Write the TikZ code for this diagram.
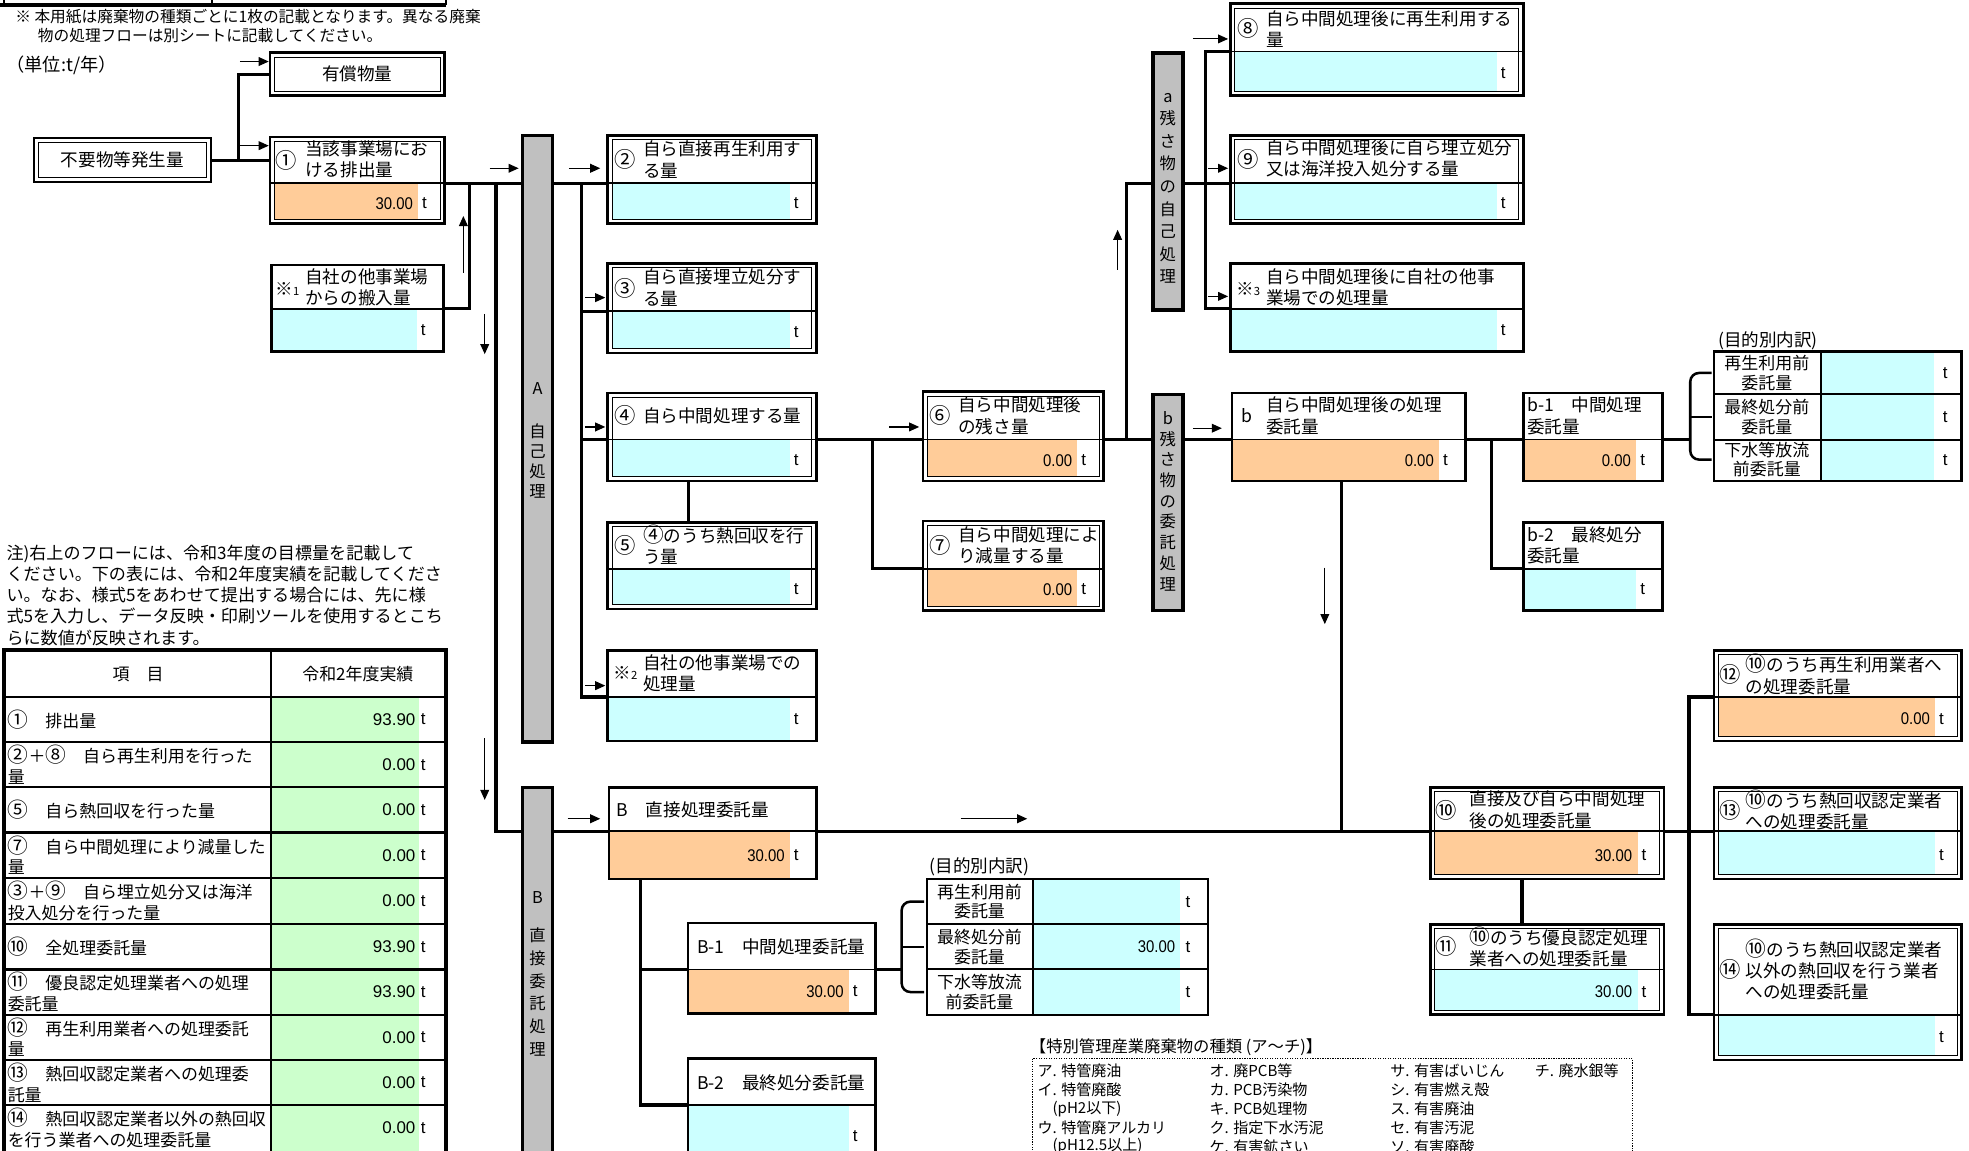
\documentclass[tikz,border=0pt]{standalone}
\usepackage{fontspec}
\setmainfont{Noto Sans CJK JP}
\newfontfamily\numf{Liberation Sans}
\usetikzlibrary{arrows.meta,calc}
\definecolor{orfill}{HTML}{FFCC99}
\definecolor{cyfill}{HTML}{CCFFFF}
\definecolor{grfill}{HTML}{CCFFCC}
\definecolor{barfill}{HTML}{C0C0C0}
\newcommand{\cir}[1]{{\fontsize{16.5}{16}\selectfont #1}}
\tikzset{
 bframe/.style={draw, line width=2.1, inner sep=0, outer sep=0, rectangle},
 barst/.style={draw, fill=barfill, line width=2.8, inner sep=0, outer sep=0, rectangle},
 splitl/.style={line width=1.5},
 conn/.style={line width=2.5},
 brk/.style={line width=2},
 ind/.style={line width=0.9, -{Triangle[length=8,width=7]}},
 hd/.style={font=\fontsize{14}{17}\selectfont, inner sep=0, align=left, anchor=west},
 mk/.style={font=\fontsize{17}{17}\selectfont, inner sep=0},
 val/.style={font=\numf\fontsize{13.5}{15}\selectfont, inner sep=0},
 tt/.style={font=\fontsize{13.5}{16.5}\selectfont, inner sep=0, align=left},
 bt/.style={font=\fontsize{13}{15}\selectfont, inner sep=0, align=center},
 lg/.style={font=\fontsize{12}{14}\selectfont, inner sep=0, anchor=west},
 nt/.style={font=\fontsize{13.6}{16.8}\selectfont, inner sep=0, align=left, anchor=north west},
}
\newcommand{\corebox}[9]{%
  \fill[#7] (#2+#8,#6) rectangle (#4-21,#5-#8);
  \node[bframe, minimum width={#4-#2}, minimum height={#5-#3}, anchor=north west] (#1) at (#2,#3) {};
  \draw[splitl] (#2,#6) -- (#4,#6);
  \node[val, anchor=east] at (#4-25,{(#6+#5)/2}) {\scalebox{0.88}[1]{#9}};
  \node[val, anchor=west] at (#4-18,{(#6+#5)/2}) {t};
  \coordinate (#1-l) at (#2,#6);
  \coordinate (#1-r) at (#4,#6);
}
\newcommand{\boxS}[8]{\corebox{#1}{#2}{#3}{#4}{#5}{#6}{#7}{0}{#8}}
\newcommand{\boxD}[8]{\corebox{#1}{#2}{#3}{#4}{#5}{#6}{#7}{3.4}{#8}%
  \draw[line width=0.8] (#2+3.4,#3+3.4) rectangle (#4-3.4,#5-3.4);}
\newcommand{\trow}[3]{\node[tt,anchor=west] at (6,#1) {#2};
  \node[val,anchor=east] at (331,#1) {#3};
  \node[val,anchor=west] at (335,#1) {t};}
\begin{document}
\begin{tikzpicture}[x=1pt,y=-1pt]
\path[use as bounding box] (0,0) rectangle (1568,916);
\clip (0,0) rectangle (1568,916);
\fill[white] (0,0) rectangle (1568,916);

% top cut-off table
\draw[line width=2.5] (0,4) -- (355,4);
\draw[line width=2] (3,0) -- (3,4) (169,0) -- (169,4) (355,0) -- (355,4);
\node[font=\fontsize{12.5}{14}\selectfont, inner sep=0, anchor=west] (note1) at (12,13) {※ 本用紙は廃棄物の種類ごとに1枚の記載となります。異なる廃棄};
\node[font=\fontsize{12.5}{14}\selectfont, inner sep=0, anchor=west] (note2) at (30,28) {物の処理フローは別シートに記載してください。};
\node[font=\fontsize{14.5}{17}\selectfont, inner sep=0, anchor=west] (unit) at (5,52) {（単位:t/年）};

% start boxes
\node[bframe, minimum width=141, minimum height=35, anchor=north west, font=\fontsize{14}{17}\selectfont] (fuyo) at (27,110) {不要物等発生量};
\draw[line width=0.8] (30.4,113.4) rectangle (164.6,141.6);
\node[bframe, minimum width=139, minimum height=34, anchor=north west, font=\fontsize{14}{17}\selectfont] (yusho) at (215,42) {有償物量};
\draw[line width=0.8] (218.4,45.4) rectangle (350.6,72.6);

% bars
\node[barst, minimum width=24, minimum height=483, anchor=north west] (barA) at (416,108) {};
\node[barst, minimum width=24, minimum height=320, anchor=north west] (barB) at (416,627) {};
\node[barst, minimum width=24, minimum height=205, anchor=north west] (bara) at (918,42) {};
\node[barst, minimum width=24, minimum height=172, anchor=north west] (barb) at (918,314) {};
\node[bt] (barAt1) at (428,309) {A};
\node[bt, font=\fontsize{13}{16}\selectfont] (barAt2) at (428,367) {自\\己\\処\\理};
\node[bt] (barBt1) at (428,715) {B};
\node[bt, font=\fontsize{13}{18.2}\selectfont] (barBt2) at (428,790) {直\\接\\委\\託\\処\\理};
\node[bt, font=\fontsize{13}{18}\selectfont] (barat) at (930,150) {a\\残\\さ\\物\\の\\自\\己\\処\\理};
\node[bt, font=\fontsize{13}{16.5}\selectfont] (barbt) at (930,399) {b\\残\\さ\\物\\の\\委\\託\\処\\理};

% flow boxes
\boxD{b1}{215}{109}{354}{178}{146}{orfill}{30.00}
\node[mk] at (228,128) {①};
\node[hd] at (243,127) {当該事業場にお\\ける排出量};
\boxS{k1}{216}{211}{353}{280}{246}{cyfill}{}
\node[mk, font=\fontsize{14}{14}\selectfont] at (229,230) {※{\fontsize{9}{9}\selectfont 1}};
\node[hd] at (243,229) {自社の他事業場\\からの搬入量};
\boxD{b2}{484}{108}{650}{178}{146}{cyfill}{}
\node[mk] at (498,127) {②};
\node[hd] at (512,127) {自ら直接再生利用す\\る量};
\boxD{b3}{484}{210}{650}{281}{248}{cyfill}{}
\node[mk] at (498,230) {③};
\node[hd] at (512,229) {自ら直接埋立処分す\\る量};
\boxD{b4}{484}{313}{650}{383}{350}{cyfill}{}
\node[mk] at (498,331) {④};
\node[hd] at (512,331) {自ら中間処理する量};
\boxD{b5}{484}{416}{650}{485}{453}{cyfill}{}
\node[mk] at (498,434) {⑤};
\node[hd] at (512,434) {\cir{④}のうち熱回収を行\\う量};
\boxS{k2}{484}{518}{650}{590}{555}{cyfill}{}
\node[mk, font=\fontsize{14}{14}\selectfont] at (498,536) {※{\fontsize{9}{9}\selectfont 2}};
\node[hd] at (512,536) {自社の他事業場での\\処理量};
\boxD{b6}{735}{312}{879}{383}{350}{orfill}{0.00}
\node[mk] at (749,331) {⑥};
\node[hd] at (763,331) {自ら中間処理後\\の残さ量};
\boxD{b7}{735}{415}{879}{486}{453}{orfill}{0.00}
\node[mk] at (749,434) {⑦};
\node[hd] at (763,434) {自ら中間処理によ\\り減量する量};
\boxD{b8}{980}{3}{1213}{76}{41}{cyfill}{}
\node[mk] at (994,23) {⑧};
\node[hd] at (1008,23) {自ら中間処理後に再生利用する\\量};
\boxD{b9}{980}{108}{1213}{178}{146}{cyfill}{}
\node[mk] at (994,127) {⑨};
\node[hd] at (1008,126) {自ら中間処理後に自ら埋立処分\\又は海洋投入処分する量};
\boxS{k3}{980}{210}{1213}{280}{246}{cyfill}{}
\node[mk, font=\fontsize{14}{14}\selectfont] at (994,230) {※{\fontsize{9}{9}\selectfont 3}};
\node[hd] at (1008,229) {自ら中間処理後に自社の他事\\業場での処理量};
\boxS{bb}{981}{313}{1167}{383}{350}{orfill}{0.00}
\node[mk, font=\fontsize{14}{14}\selectfont] at (993,331) {b};
\node[hd] at (1008,331) {自ら中間処理後の処理\\委託量};
\boxS{bb1}{1213}{313}{1324}{383}{350}{orfill}{0.00}
\node[hd] at (1216,331) {b-1　中間処理\\委託量};
\boxS{bb2}{1213}{416}{1324}{486}{453}{cyfill}{}
\node[hd] at (1216,434) {b-2　最終処分\\委託量};
\boxS{bB}{485}{627}{650}{700}{662}{orfill}{30.00}
\node[hd] at (491,645) {B　直接処理委託量};
\boxS{bB1}{548}{735}{697}{807}{772}{orfill}{30.00}
\node[hd] at (555,754) {B-1　中間処理委託量};
\boxS{bB2}{548}{843}{697}{930}{880}{cyfill}{}
\node[hd] at (555,862) {B-2　最終処分委託量};
\boxD{b10}{1139}{627}{1325}{700}{662}{orfill}{30.00}
\node[mk] at (1152,645) {⑩};
\node[hd] at (1170,645) {直接及び自ら中間処理\\後の処理委託量};
\boxD{b11}{1139}{736}{1325}{808}{772}{cyfill}{30.00}
\node[mk] at (1152,754) {⑪};
\node[hd] at (1170,754) {\cir{⑩}のうち優良認定処理\\業者への処理委託量};
\boxD{b12}{1365}{518}{1562}{590}{555}{orfill}{0.00}
\node[mk] at (1378,537) {⑫};
\node[hd] at (1390,537) {\cir{⑩}のうち再生利用業者へ\\の処理委託量};
\boxD{b13}{1365}{627}{1562}{700}{662}{cyfill}{}
\node[mk] at (1378,645) {⑬};
\node[hd] at (1390,645) {\cir{⑩}のうち熱回収認定業者\\への処理委託量};
\boxD{b14}{1365}{736}{1562}{844}{808}{cyfill}{}
\node[mk] at (1378,772) {⑭};
\node[hd] at (1390,772) {\cir{⑩}のうち熱回収認定業者\\以外の熱回収を行う業者\\への処理委託量};

% breakdown table (b-1)
\node[hd] (pur1) at (1368,271) {(目的別内訳)};
\fill[cyfill] (1450,280) rectangle (1540,383);
\draw[line width=1.8] (1365,280) rectangle (1562,383);
\draw[line width=1.6] (1365,314) -- (1562,314) (1365,350) -- (1562,350) (1450,280) -- (1450,383);
\node[bt, font=\fontsize{13.5}{15.5}\selectfont] at (1407,297) {再生利用前\\委託量};
\node[bt, font=\fontsize{13.5}{15.5}\selectfont] at (1407,332) {最終処分前\\委託量};
\node[bt, font=\fontsize{13.5}{15.5}\selectfont] at (1407,366) {下水等放流\\前委託量};
\node[val, anchor=west] at (1547,297) {t};
\node[val, anchor=west] at (1547,332) {t};
\node[val, anchor=west] at (1547,366) {t};

% breakdown table (B-1)
\node[hd] (pur2) at (740,690) {(目的別内訳)};
\fill[cyfill] (823,700) rectangle (940,808);
\draw[line width=1.8] (738,700) rectangle (962,808);
\draw[line width=1.6] (738,736) -- (962,736) (738,772) -- (962,772) (823,700) -- (823,808);
\node[bt, font=\fontsize{13.5}{15.5}\selectfont] at (780,718) {再生利用前\\委託量};
\node[bt, font=\fontsize{13.5}{15.5}\selectfont] at (780,754) {最終処分前\\委託量};
\node[bt, font=\fontsize{13.5}{15.5}\selectfont] at (780,790) {下水等放流\\前委託量};
\node[val, anchor=east] at (936,754) {\scalebox{0.88}[1]{30.00}};
\node[val, anchor=west] at (944,718) {t};
\node[val, anchor=west] at (944,754) {t};
\node[val, anchor=west] at (944,790) {t};

% connectors
\coordinate (ja) at (190,0);
\draw[conn] (fuyo.east) -- (fuyo.east -| b1.west);
\draw[conn] (ja |- fuyo.east) |- (yusho.west);
\draw[conn] (b1-r) -- (b1-r -| barA.west);
\coordinate (xa) at (374,0);
\coordinate (xb) at (395,0);
\draw[conn] (k1-r) -| (xa |- b1-r);
\draw[conn] (xb |- b1-r) |- (barB.west |- bB-l);
\draw[conn] (barA.east |- b2-l) -- (b2-l);
\coordinate (xc) at (463,0);
\draw[conn] (xc |- b2-l) |- (k2-l);
\draw[conn] (xc |- b3-l) -- (b3-l);
\draw[conn] (xc |- b4-l) -- (b4-l);
\coordinate (x45) at (548,0);
\draw[conn] (b4.south -| x45) -- (b5.north -| x45);
\draw[conn] (b4-r) -- (b6-l);
\coordinate (xd) at (695,0);
\draw[conn] (xd |- b4-r) |- (b7-l);
\coordinate (xe) at (897,0);
\draw[conn] (b6-r) -- (b6-r -| barb.west);
\draw[conn] (xe |- b6-r) |- (bara.west |- b9-l);
\coordinate (xf) at (960,0);
\draw[conn] (bara.east |- b9-l) -- (b9-l);
\draw[conn] (b8-l) -| (xf |- k3-l) -- (k3-l);
\draw[conn] (barb.east |- bb-l) -- (bb-l);
\draw[conn] (bb-r) -- (bb1-l);
\coordinate (xg) at (1188,0);
\draw[conn] (xg |- bb-r) |- (bb2-l);
\coordinate (xbr) at (1346,0);
\draw[conn] (bb1-r) -- (xbr |- bb1-r);
\draw[brk, rounded corners=7] (1363,297) -- (xbr |- 0,297) -- (xbr |- 0,366) -- (1363,366);
\draw[brk] (xbr |- 0,332) -- (1363,332);
\coordinate (xh) at (1068,0);
\draw[conn] (bb.south -| xh) -- (xh |- bB-r);
\draw[conn] (barB.east |- bB-l) -- (bB-l);
\draw[conn] (bB-r) -- (b10-l);
\coordinate (xk) at (510,0);
\draw[conn] (bB.south -| xk) |- (bB2-l);
\draw[conn] (xk |- bB1-l) -- (bB1-l);
\coordinate (xbr2) at (718,0);
\draw[conn] (bB1-r) -- (xbr2 |- bB1-r);
\draw[brk, rounded corners=7] (736,718) -- (xbr2 |- 0,718) -- (xbr2 |- 0,790) -- (736,790);
\draw[brk] (xbr2 |- 0,754) -- (736,754);
\coordinate (x1011) at (1212,0);
\draw[conn] (b10.south -| x1011) -- (b11.north -| x1011);
\coordinate (xi) at (1345,0);
\draw[conn] (b10-r) -- (b13-l);
\draw[conn] (b12-l) -| (xi |- b14-l) -- (b14-l);

% indicator arrows
\draw[ind] (191,49) -- (214,49);
\draw[ind] (191,116) -- (214,116);
\draw[ind] (369,217) -- (369,172);
\draw[ind] (386,250) -- (386,282);
\draw[ind] (386,588) -- (386,637);
\draw[ind] (390,134) -- (413,134);
\draw[ind] (453,134) -- (478,134);
\draw[ind] (466,237) -- (482,237);
\draw[ind] (466,340) -- (482,340);
\draw[ind] (466,546) -- (482,546);
\draw[ind] (708,340) -- (732,340);
\draw[ind] (890,215) -- (890,183);
\draw[ind] (950,31) -- (978,31);
\draw[ind] (962,134) -- (978,134);
\draw[ind] (962,236) -- (978,236);
\draw[ind] (950,341) -- (973,341);
\draw[ind] (1055,452) -- (1055,497);
\draw[ind] (452,652) -- (478,652);
\draw[ind] (765,652) -- (818,652);

% left note
\node[nt] (chu) at (5,434) {注)右上のフローには、令和3年度の目標量を記載して\\ください。下の表には、令和2年度実績を記載してくださ\\い。なお、様式5をあわせて提出する場合には、先に様\\式5を入力し、データ反映・印刷ツールを使用するとこち\\らに数値が反映されます。};

% left table
\fill[grfill] (216,555) rectangle (334,920);
\foreach \yy in {555,591,627,663,699,736,772,808,844,880}
  \draw[line width=1.8] (3,\yy) -- (355,\yy);
\draw[line width=1.8] (216,518) -- (216,920);
\draw[line width=3.2] (3,518) rectangle (355,920);
\node[tt] (th1) at (110,537) {項　目};
\node[tt] (th2) at (285,537) {令和2年度実績};
\trow{573}{\cir{①}　排出量}{93.90}
\trow{609}{\cir{②}＋\cir{⑧}　自ら再生利用を行った\\量}{0.00}
\trow{645}{\cir{⑤}　自ら熱回収を行った量}{0.00}
\trow{681}{\cir{⑦}　自ら中間処理により減量した\\量}{0.00}
\trow{717.5}{\cir{③}＋\cir{⑨}　自ら埋立処分又は海洋\\投入処分を行った量}{0.00}
\trow{754}{\cir{⑩}　全処理委託量}{93.90}
\trow{790}{\cir{⑪}　優良認定処理業者への処理\\委託量}{93.90}
\trow{826}{\cir{⑫}　再生利用業者への処理委託\\量}{0.00}
\trow{862}{\cir{⑬}　熱回収認定業者への処理委\\託量}{0.00}
\trow{898}{\cir{⑭}　熱回収認定業者以外の熱回収\\を行う業者への処理委託量}{0.00}

% legend
\node[font=\fontsize{13}{15}\selectfont, inner sep=0, anchor=west] (legt) at (820,834) {【特別管理産業廃棄物の種類 (ア～チ)】};
\draw[densely dotted, line width=1] (822,843) rectangle (1300,940);
\node[lg] at (826,853) {ア. 特管廃油};
\node[lg] at (826,868) {イ. 特管廃酸};
\node[lg] at (826,883) {　(pH2以下)};
\node[lg] at (826,898) {ウ. 特管廃アルカリ};
\node[lg] at (826,913) {　(pH12.5以上)};
\node[lg] at (963,853) {オ. 廃PCB等};
\node[lg] at (963,868) {カ. PCB汚染物};
\node[lg] at (963,883) {キ. PCB処理物};
\node[lg] at (963,898) {ク. 指定下水汚泥};
\node[lg] at (963,913) {ケ. 有害鉱さい};
\node[lg] at (1107,853) {サ. 有害ばいじん};
\node[lg] at (1107,868) {シ. 有害燃え殻};
\node[lg] at (1107,883) {ス. 有害廃油};
\node[lg] at (1107,898) {セ. 有害汚泥};
\node[lg] at (1107,913) {ソ. 有害廃酸};
\node[lg] at (1222,853) {チ. 廃水銀等};
\end{tikzpicture}
\end{document}
